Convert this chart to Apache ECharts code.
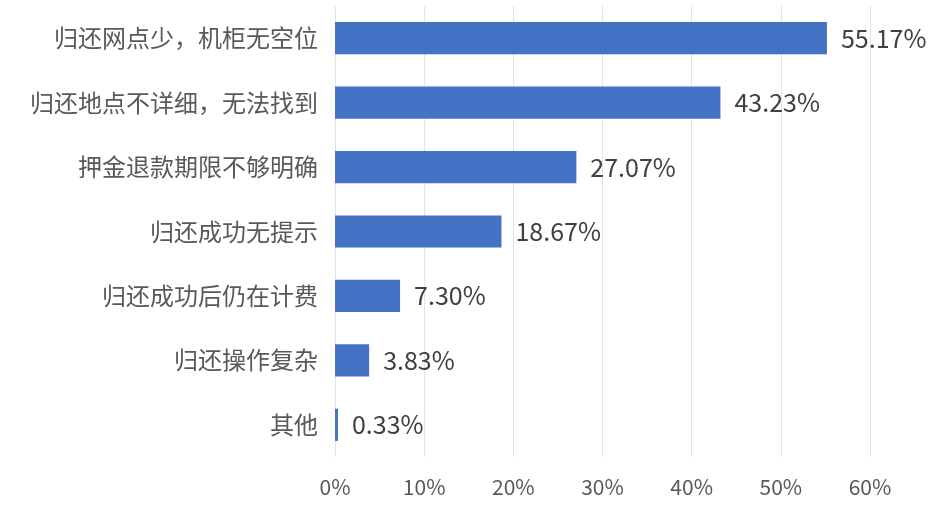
<!DOCTYPE html>
<html><head><meta charset="utf-8">
<script src="https://cdn.jsdelivr.net/npm/echarts@6/dist/echarts.min.js"></script>
<style>html,body{margin:0;padding:0;background:#fff}#c{width:945px;height:526px}</style>
</head><body><div id="c"></div>
<script>
var categories = ['归还网点少，机柜无空位','归还地点不详细，无法找到','押金退款期限不够明确','归还成功无提示','归还成功后仍在计费','归还操作复杂','其他'];
var values = [55.17, 43.23, 27.07, 18.67, 7.30, 3.83, 0.33];
var xTicks = [0, 10, 20, 30, 40, 50, 60];
var font = '"Noto Sans CJK SC", "Microsoft YaHei", sans-serif';
var chart = echarts.init(document.getElementById('c'));
chart.setOption({
  animation: false,
  grid: {left: 335, right: 75, top: 6, bottom: 69, containLabel: false},
  xAxis: {
    type: 'value', min: xTicks[0], max: xTicks[xTicks.length-1], interval: 10,
    axisLine: {show: false}, axisTick: {show: false},
    splitLine: {lineStyle: {color: '#e3e3e3', width: 1}},
    axisLabel: {formatter: '{value}%', color: '#595959', fontSize: 21, margin: 20, fontFamily: font}
  },
  yAxis: {
    type: 'category', data: categories, inverse: true,
    axisLine: {show: false}, axisTick: {show: false},
    axisLabel: {color: '#595959', fontSize: 24, margin: 17, fontFamily: font}
  },
  series: [{
    type: 'bar', data: values, barCategoryGap: '50%',
    itemStyle: {color: '#4472C4'},
    label: {show: true, position: 'right', distance: 14, color: '#404040', fontSize: 25, fontFamily: font,
      formatter: function(p){ return p.value.toFixed(2) + '%'; }}
  }]
});
</script></body></html>
